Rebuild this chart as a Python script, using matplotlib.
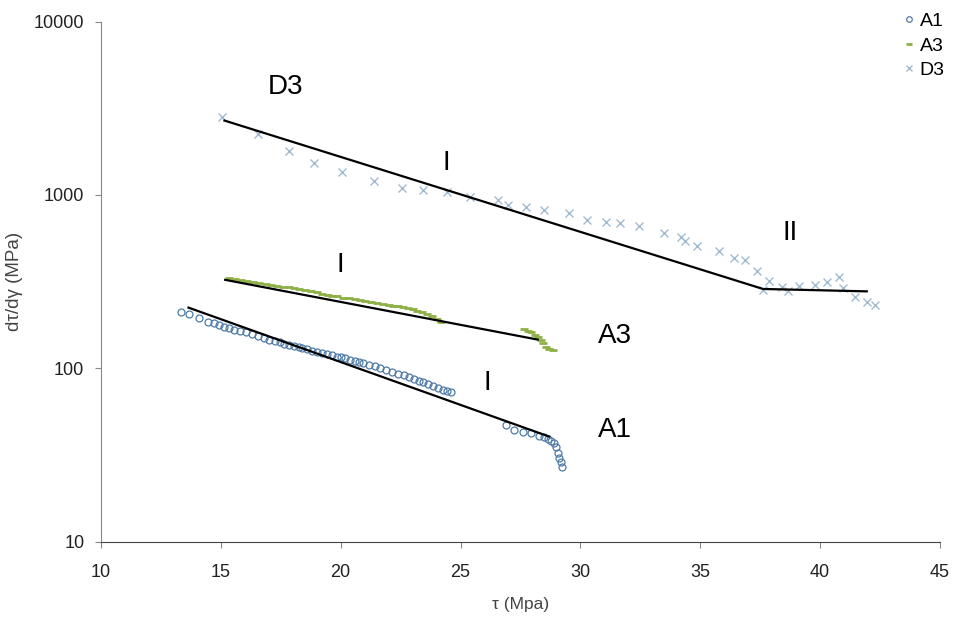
import numpy as np
import matplotlib
matplotlib.use('Agg')
import matplotlib.pyplot as plt

plt.rcParams['font.family'] = ['Liberation Sans', 'DejaVu Sans']

# A1 data (tau, dtau/dgamma)
a1_tau = [13.35, 13.69, 14.07, 14.45, 14.70, 14.91, 15.15, 15.35, 15.56, 15.80,
          16.05, 16.30, 16.55, 16.80, 17.01, 17.25, 17.45, 17.65, 17.84, 18.05,
          18.25, 18.40, 18.60, 18.80, 19.00, 19.20, 19.43, 19.65, 19.85, 20.00,
          20.20, 20.40, 20.60, 20.75, 20.95, 21.20, 21.45, 21.65, 21.90, 22.15,
          22.40, 22.65, 22.85, 23.05, 23.25, 23.45, 23.65, 23.85, 24.05, 24.25,
          24.45, 24.59,
          26.90, 27.25, 27.59, 27.96, 28.29, 28.49, 28.63, 28.77, 28.91, 28.98,
          29.05, 29.12, 29.20, 29.25]
a1_val = [212, 206, 195, 186, 182, 179, 174, 170, 167, 164,
          161, 158, 153, 150, 146, 143, 141, 139, 137, 134,
          132, 131, 129, 126, 125, 123, 121, 119, 117, 115.5,
          114, 112, 110.5, 109, 107.5, 105, 102.5, 100.5, 98, 95.5,
          93, 91, 89, 87, 85, 83, 81, 79, 77, 75.5,
          74, 72.7,
          47.3, 44.1, 43.1, 42.2, 40.9, 40.0, 39.1, 38.3, 36.9, 35.0,
          32.7, 30.6, 28.8, 27.1]

# A3 data
a3_tau = [15.35, 15.60, 15.85, 16.10, 16.35, 16.60, 16.88, 17.10, 17.35, 17.60,
          17.85, 18.05, 18.26, 18.50, 18.75, 19.00, 19.20, 19.45, 19.64, 19.85,
          20.10, 20.35, 20.60, 20.80, 21.03, 21.25, 21.50, 21.75, 22.00, 22.20,
          22.41, 22.60, 22.80, 23.00, 23.20, 23.40, 23.60, 23.80, 24.00, 24.20,
          27.66, 27.80, 27.94, 28.10, 28.22, 28.35, 28.45, 28.56, 28.70, 28.84]
a3_val = [332, 328, 324, 320, 316, 311, 307, 303, 299, 296,
          293, 290, 287, 283, 279, 274, 270, 266, 263, 260,
          256, 253, 250, 247, 244, 241, 238, 235, 232, 230,
          228, 227, 224, 219, 215, 212, 207, 200, 193, 186,
          169, 165, 161, 156, 151, 145, 140, 132, 129, 127]

# D3 data
d3_tau = [15.05, 16.53, 17.84, 18.88, 20.06, 21.37, 22.55, 23.45, 24.45, 25.38,
          26.56, 26.97, 27.73, 28.50, 29.53, 30.29, 31.05, 31.65, 32.44, 33.47,
          34.19, 34.37, 34.88, 35.80, 36.42, 36.86, 37.35, 37.62, 37.87, 38.42,
          38.66, 39.14, 39.81, 40.28, 40.78, 40.97, 41.47, 41.94, 42.30]
d3_val = [2833, 2253, 1787, 1531, 1365, 1211, 1099, 1070, 1037, 979,
          937, 880, 850, 820, 784, 718, 703, 690, 660, 604,
          575, 541, 511, 478, 434, 422, 363, 283, 321, 293,
          281, 300, 304, 316, 338, 291, 259, 240, 233]

# fitted lines
a1_fit_x = [13.65, 28.70]
a1_fit_y = [224, 40.4]
a3_fit_x = [15.18, 28.22]
a3_fit_y = [324, 146.5]
d3_fit_x = [15.15, 37.62, 41.95]
d3_fit_y = [2687, 287, 278]

# annotations
labels = ["D3", "I", "II", "I", "A3", "I", "A1"]
label_x = [17.71, 24.42, 38.76, 19.99, 31.43, 26.12, 31.43]
label_y = [4207, 1531, 604, 395, 154, 82.4, 44.2]

fig = plt.figure(figsize=(9.62, 6.17), dpi=100)
ax = fig.add_axes([0.105, 0.122, 0.872, 0.843])

ax.plot(a1_tau, a1_val, 'o', mfc='none', mec='#4f7aa8', ms=5, mew=0.9, label='A1')
ax.plot(a3_tau, a3_val, '_', color='#8db045', ms=6, mew=2, label='A3')
ax.plot(d3_tau, d3_val, 'x', color='#a3bbd0', ms=6, mew=1, label='D3')

ax.plot(a1_fit_x, a1_fit_y, color='black', lw=1.6)
ax.plot(a3_fit_x, a3_fit_y, color='black', lw=1.6)
ax.plot(d3_fit_x, d3_fit_y, color='black', lw=1.6)

for t, x, y in zip(labels, label_x, label_y):
    ax.text(x, y, t, fontsize=20, ha='center', va='center')

ax.set_yscale('log')
ax.set_xlim(10, 45)
ax.set_ylim(10, 10000)
ax.set_xticks([10, 15, 20, 25, 30, 35, 40, 45])
ax.set_yticks([10, 100, 1000, 10000])
ax.set_yticklabels(['10', '100', '1000', '10000'])
ax.minorticks_off()

ax.spines['top'].set_visible(False)
ax.spines['right'].set_visible(False)
ax.spines['left'].set_color('#888888')
ax.spines['bottom'].set_color('#444444')
ax.tick_params(axis='both', labelsize=13, colors='#222222', length=4)
ax.tick_params(axis='y', color='#888888', pad=8)
ax.tick_params(axis='x', color='#888888', pad=12)

ax.set_xlabel('τ (Mpa)', fontsize=12.5, color='#444444')
ax.set_ylabel('dτ/dγ (MPa)', fontsize=13.5, color='#444444')
ax.xaxis.set_label_coords(0.5, -0.106)
ax.yaxis.set_label_coords(-0.093, 0.5)

fig.legend(loc='upper right', bbox_to_anchor=(1.0, 1.008), frameon=False,
           fontsize=14, handlelength=0.5, handletextpad=0.3, labelspacing=0.35,
           markerscale=0.8)

fig.savefig('out.png', dpi=100)
